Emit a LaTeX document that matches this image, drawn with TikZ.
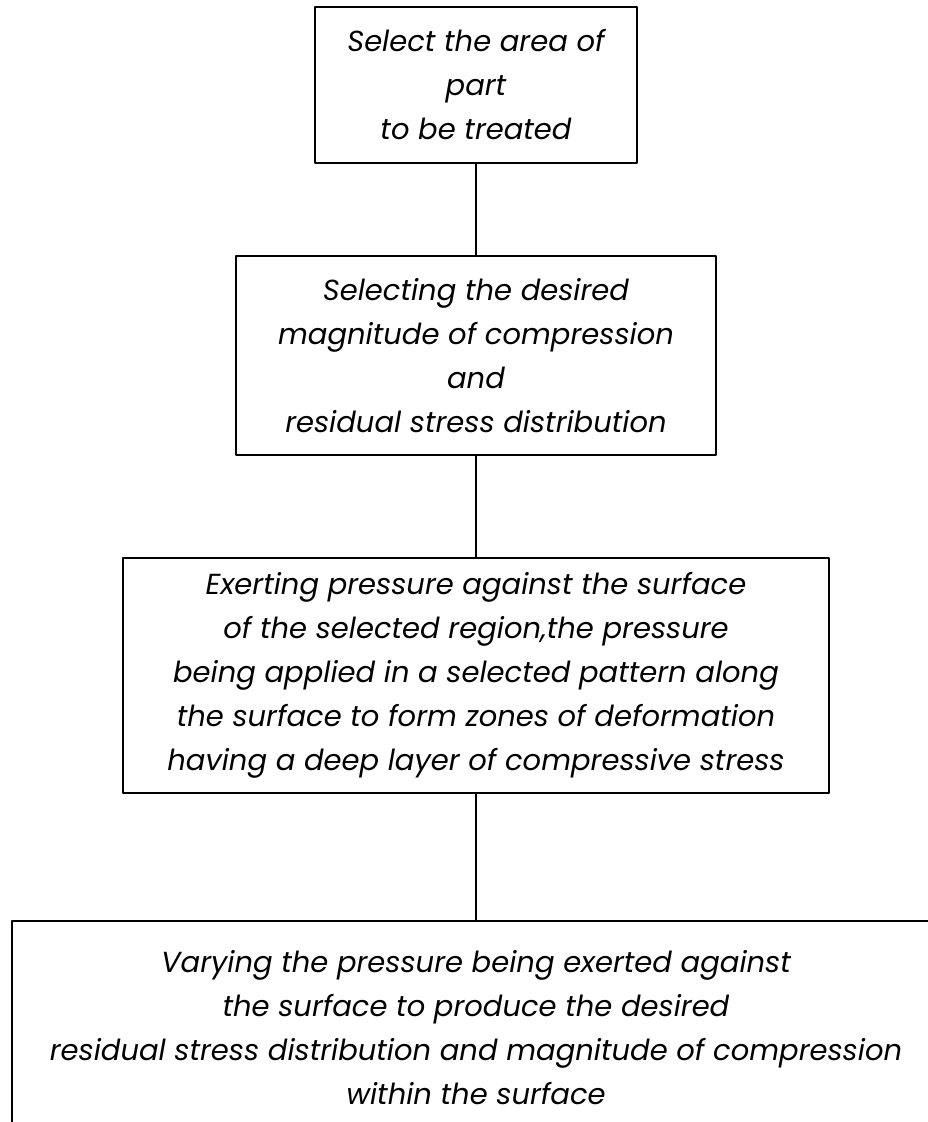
\documentclass[tikz,border=0pt]{standalone}
\usepackage{fontspec}
\setmainfont{Poppins}
\usetikzlibrary{shapes, calc}
\tikzset{stepbox/.style={draw=black, line width=1.3pt, align=center, inner sep=0pt,
  font=\itshape\fontsize{29}{44}\selectfont}}

\begin{document}
\begin{tikzpicture}[line cap=round,line join=round,x=1pt,y=-1pt]
\useasboundingbox (0,0) rectangle (927,1122);
\node[stepbox, minimum width=322, minimum height=156] (area) at (476,85) {Select the area of\\part\\to be treated};
\node[stepbox, minimum width=480, minimum height=199] (magnitude) at (476,355.5) {Selecting the desired\\magnitude of compression\\and\\residual stress distribution};
\node[stepbox, minimum width=706, minimum height=235] (pressure) at (476,675.5) {Exerting pressure against the surface\\of the selected region,the pressure\\being applied in a selected pattern along\\the surface to form zones of deformation\\having a deep layer of compressive stress};
\node[stepbox, minimum width=928, minimum height=214] (varying) at (476,1028) {Varying the pressure being exerted against\\the surface to produce the desired\\residual stress distribution and magnitude of compression\\within the surface};
%\draw[color=lightgray] (0,0) grid (927,1122);
\draw[line width=1.3pt] (area.south) -- (magnitude.north);
\draw[line width=1.3pt] (magnitude.south) -- (pressure.north);
\draw[line width=1.3pt] (pressure.south) -- (varying.north);
\end{tikzpicture}
\end{document}
